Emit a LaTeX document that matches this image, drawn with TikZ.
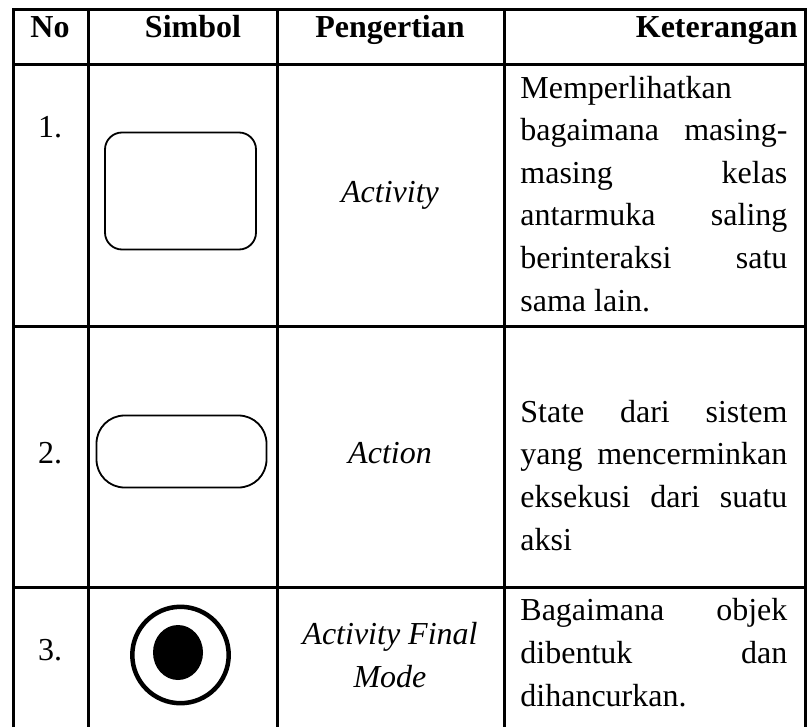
\documentclass[tikz,border=0pt]{standalone}
\usepackage{fontspec}
\setmainfont{Liberation Serif}
\usepackage{tikz}
\usetikzlibrary{shapes.geometric}
\tikzset{
  tabline/.style={line width=1.5pt},
  hd/.style={font=\fontsize{16}{21.3}\selectfont\bfseries,inner sep=0pt,anchor=base},
  num/.style={font=\fontsize{16}{21.3}\selectfont,inner sep=0pt,anchor=base},
  nm/.style={font=\fontsize{16}{21.3}\selectfont\itshape,inner sep=0pt,anchor=base,align=center},
  txt/.style={font=\fontsize{16}{21.3}\selectfont,inner sep=0pt,anchor=base west,align=left},
  sym/.style={draw,line width=0.9pt,inner sep=0pt}
}
\newcommand{\jl}[1]{\makebox[133.5pt][s]{#1}}

\begin{document}
\begin{tikzpicture}[x=0.5pt,y=-0.5pt]
\useasboundingbox (0,0) rectangle (807,727);
% table rules
\draw[tabline] (13,727) -- (13,10) -- (805,10) -- (805,727);
\draw[tabline] (88,10) -- (88,727);
\draw[tabline] (277,10) -- (277,727);
\draw[tabline] (504,10) -- (504,727);
\draw[tabline] (13,65) -- (805,65);
\draw[tabline] (13,326) -- (805,326);
\draw[tabline] (13,587) -- (805,587);
% header
\node[hd] (hno) at (50,38) {No};
\node[hd] (hsym) at (193,38) {Simbol};
\node[hd] (hdef) at (390,38) {Pengertian};
\node[hd,anchor=base east] (hket) at (798,38) {Keterangan};
% row 1 (multi-line nodes sit on their last baseline)
\node[num] (n1) at (50,138) {1.};
\node[sym,rounded corners=8.5pt,minimum width=75.5pt,minimum height=58.5pt] (actbox) at (180.5,191) {};
\node[nm] (d1) at (390,203) {Activity};
\node[txt] (k1) at (520,311) {Memperlihatkan\\\jl{bagaimana masing-}\\\jl{masing kelas}\\\jl{antarmuka saling}\\\jl{berinteraksi satu}\\sama lain.};
% row 2
\node[num] (n2) at (50,463) {2.};
\node[sym,rounded corners=14pt,minimum width=85pt,minimum height=36pt] (actionbox) at (181.5,451.5) {};
\node[nm] (d2) at (390,463) {Action};
\node[txt] (k2) at (520,550) {\jl{State dari sistem}\\\jl{yang mencerminkan}\\\jl{eksekusi dari suatu}\\aksi};
% row 3
\node[num] (n3) at (50,660) {3.};
\node[sym,circle,line width=2.25pt,minimum size=48.2pt] (finring) at (180.5,655) {};
\node[ellipse,fill=black,inner sep=0pt,minimum width=25pt,minimum height=27.5pt] (findot) at (178,652.5) {};
\node[nm] (d3) at (390,687) {Activity Final\\Mode};
\node[txt] (k3) at (520,706) {\jl{Bagaimana objek}\\\jl{dibentuk dan}\\dihancurkan.};
\end{tikzpicture}
\end{document}
